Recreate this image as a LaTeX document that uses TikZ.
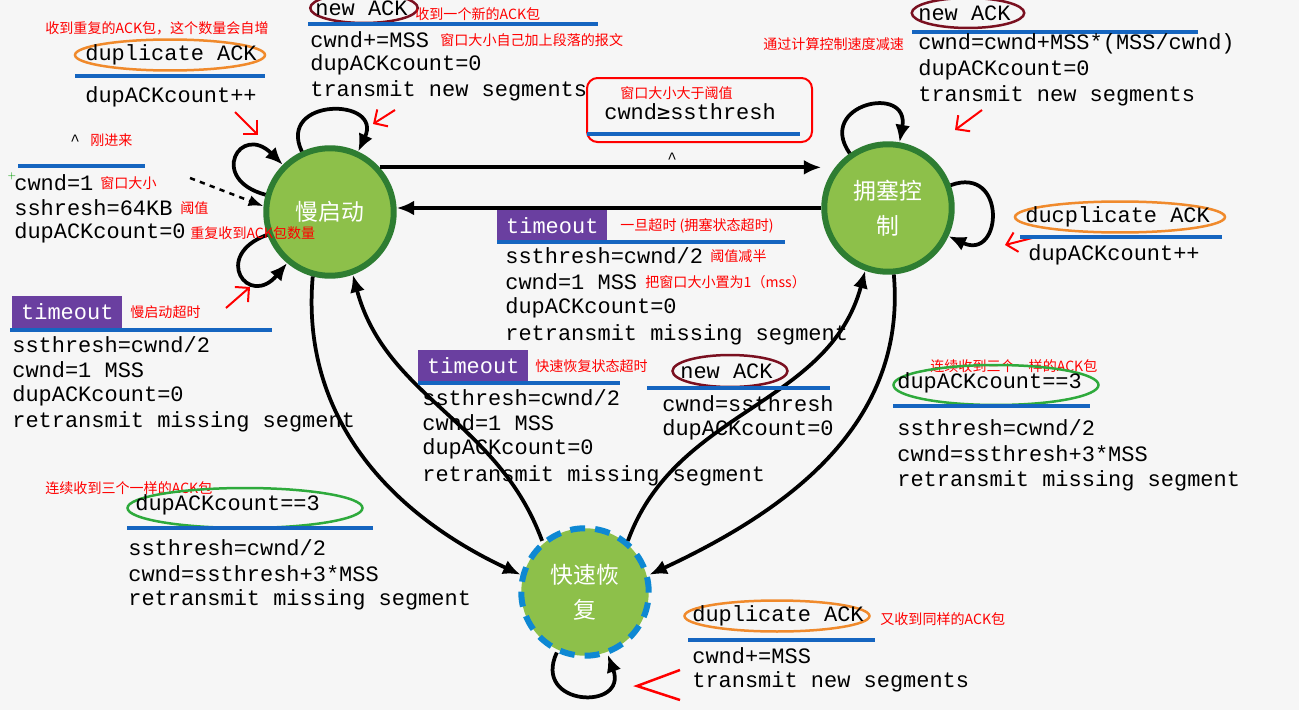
\documentclass[tikz,border=0pt]{standalone}
\usepackage{fontspec}
\setmonofont{Liberation Mono}
\newfontfamily\cjk{Noto Sans CJK SC}
\usetikzlibrary{arrows.meta,shapes.geometric}
\definecolor{stategreen}{HTML}{8DC04A}
\definecolor{stateedge}{HTML}{2E7D32}
\definecolor{lineblue}{HTML}{1565C0}
\definecolor{boxpurple}{HTML}{6A3FA0}
\definecolor{ackorange}{HTML}{F08A2C}
\definecolor{ackred}{HTML}{7A1020}
\definecolor{ackgreen}{HTML}{2EAA3C}
\tikzset{
  state/.style={circle,fill=stategreen,draw=stateedge,line width=1.2mm,minimum size=2.55cm,
    text=white,align=center,font=\cjk\fontsize{13}{20}\selectfont},
  trans/.style={line width=0.75mm,-{Latex[length=3.5mm,width=3mm]}},
  code/.style={anchor=west,inner sep=0pt,font=\ttfamily\fontsize{12.5}{14}\selectfont},
  note/.style={anchor=west,inner sep=0pt,text=red,font=\cjk\fontsize{8}{10}\selectfont},
  tbox/.style={anchor=west,fill=boxpurple,text=white,minimum height=0.64cm,minimum width=2.2cm,
    inner sep=2pt,font=\ttfamily\fontsize{12.5}{14}\selectfont},
  ell/.style={ellipse,draw=#1,line width=0.5mm,inner sep=1pt},
  uline/.style={lineblue,line width=0.7mm},
  pointer/.style={red,line width=0.4mm,-{Straight Barb[length=2mm]}}
}
\begin{document}
\begin{tikzpicture}[x=0.02cm,y=-0.02cm]
\fill[gray!7] (0,0) rectangle (1299,710);
\useasboundingbox (0,0) rectangle (1299,710);
% states
\node[state] (slow) at (330,212) {慢启动};
\node[state] (cong) at (888,208) {拥塞控\\制};
\node[state,draw=cyan!70!blue,dash pattern=on 3mm off 2mm] (fast) at (585,592) {快速恢\\复};
% transitions
\draw[trans] (slow.42) -- (slow.42 -| cong.west);
\draw[trans] (cong.west) -- (cong.west -| slow.east);
\draw[trans] (slow.255) to[out=265,in=155] (fast.165);
\draw[trans] (fast.130) to[out=110,in=285] (slow.290);
\draw[trans] (cong.275) to[out=275,in=25] (fast.15);
\draw[trans] (fast.50) to[out=70,in=255] (cong.250);
\path (slow) edge[trans,out=115,in=65,min distance=12mm] (slow);
\path (slow) edge[trans,out=165,in=135,min distance=12mm] (slow);
\path (slow) edge[trans,out=200,in=230,min distance=12mm] (slow);
\path (cong) edge[trans,out=125,in=80,min distance=12mm] (cong);
\path (cong) edge[trans,out=20,in=-25,min distance=12mm] (cong);
\path (fast) edge[trans,out=-115,in=-70,min distance=12mm] (fast);
\coordinate (enter) at (190,178);
\draw[line width=0.5mm,dashed,-{Latex[length=3mm]}] (enter) -- (slow.175);
% red pointers
\draw[pointer] (235,112) -- (258,135);
\draw[pointer] (395,110) -- (373,124);
\draw[pointer] (226,308) -- (250,287);
\draw[pointer] (982,110) -- (955,130);
\draw[pointer] (1040,236) -- (1005,245);
\draw[red,line width=0.5mm] (680,670) -- (637,686) -- (680,700);
% top left
\node[note] (n1) at (45,28) {收到重复的ACK包，这个数量会自增};
\node[ell=ackorange,minimum width=3.8cm,minimum height=0.62cm] (e1) at (170,55) {};
\node[code] (c1) at (85,55) {duplicate ACK};
\draw[uline] (75,76) -- (265,76);
\node[code] (c2) at (85,97) {dupACKcount++};
\node[code,anchor=west] (c3) at (70,140) {\fontsize{9}{10}\selectfont\^{}};
\node[note] (n2) at (90,140) {刚进来};
\draw[uline] (18,166) -- (145,166);
\node[text=green!60!black,inner sep=0pt] (plus) at (12,176) {\tiny+};
\node[code] (c4) at (14,183) {cwnd=1};
\node[note] (n3) at (100,183) {窗口大小};
\node[code] (c5) at (14,208) {sshresh=64KB};
\node[note] (n4) at (180,208) {阈值};
\node[code] (c6) at (14,233) {dupACKcount=0};
\node[note] (n5) at (190,233) {重复收到ACK包数量};
\node[tbox] (t1) at (12,312) {timeout};
\node[note] (n6) at (130,312) {慢启动超时};
\draw[uline] (10,330) -- (272,330);
\node[code] (c7) at (12,345) {ssthresh=cwnd/2};
\node[code] (c8) at (12,370) {cwnd=1 MSS};
\node[code] (c9) at (12,396) {dupACKcount=0};
\node[code] (c10) at (12,422) {retransmit missing segment};
\node[note] (n7) at (45,488) {连续收到三个一样的ACK包};
\node[ell=ackgreen,minimum width=4.7cm,minimum height=0.8cm] (e2) at (245,508) {};
\node[code] (c11) at (135,505) {dupACKcount==3};
\draw[uline] (127,528) -- (373,528);
\node[code] (c12) at (128,548) {ssthresh=cwnd/2};
\node[code] (c13) at (128,574) {cwnd=ssthresh+3*MSS};
\node[code] (c14) at (128,600) {retransmit missing segment};
% top middle
\node[ell=ackred,minimum width=2.15cm,minimum height=0.6cm] (e3) at (364,8) {};
\node[code] (c15) at (315,8) {new ACK};
\node[note] (n8) at (415,14) {收到一个新的ACK包};
\draw[uline] (308,24) -- (598,24);
\node[code] (c16) at (310,40) {cwnd+=MSS};
\node[note] (n9) at (440,40) {窗口大小自己加上段落的报文};
\node[code] (c17) at (310,65) {dupACKcount=0};
\node[code] (c18) at (310,91) {transmit new segments};
\draw[red,line width=0.4mm,rounded corners=6pt] (587,78) rectangle (812,142);
\node[note] (n10) at (620,93) {窗口大小大于阈值};
\node[code] (c19) at (604,112) {cwnd{\fontspec{DejaVu Sans Mono}≥}ssthresh};
\draw[uline] (587,134) -- (800,134);
\node[code] (c20) at (667,158) {\fontsize{9}{10}\selectfont\^{}};
% top right
\node[ell=ackred,minimum width=2.25cm,minimum height=0.6cm] (e4) at (968,13) {};
\node[code] (c21) at (918,13) {new ACK};
\draw[uline] (912,32) -- (1198,32);
\node[note] (n11) at (763,44) {通过计算控制速度减速};
\node[code] (c22) at (918,44) {cwnd=cwnd+MSS*(MSS/cwnd)};
\node[code] (c23) at (918,70) {dupACKcount=0};
\node[code] (c24) at (918,96) {transmit new segments};
\node[ell=ackorange,minimum width=4.2cm,minimum height=0.62cm] (e5) at (1120,217) {};
\node[code] (c25) at (1025,217) {ducplicate ACK};
\draw[uline] (1020,237) -- (1222,237);
\node[code] (c26) at (1028,255) {dupACKcount++};
% middle
\node[tbox] (t2) at (497,226) {timeout};
\node[note] (n12) at (620,226) {一旦超时 (拥塞状态超时)};
\draw[uline] (497,242) -- (785,242);
\node[code] (c27) at (505,256) {ssthresh=cwnd/2};
\node[note] (n13) at (710,256) {阈值减半};
\node[code] (c28) at (505,282) {cwnd=1 MSS};
\node[note] (n14) at (645,282) {把窗口大小置为1（mss）};
\node[code] (c29) at (505,308) {dupACKcount=0};
\node[code] (c30) at (505,335) {retransmit missing segment};
\node[tbox] (t3) at (418,366) {timeout};
\node[note] (n15) at (535,366) {快速恢复状态超时};
\draw[uline] (418,383) -- (620,383);
\node[code] (c31) at (422,398) {ssthresh=cwnd/2};
\node[code] (c32) at (422,423) {cwnd=1 MSS};
\node[code] (c33) at (422,449) {dupACKcount=0};
\node[code] (c34) at (422,476) {retransmit missing segment};
\node[ell=ackred,minimum width=2.3cm,minimum height=0.64cm] (e6) at (730,371) {};
\node[code] (c35) at (680,371) {new ACK};
\draw[uline] (647,388) -- (830,388);
\node[code] (c36) at (662,404) {cwnd=ssthresh};
\node[code] (c37) at (662,430) {dupACKcount=0};
\node[note] (n16) at (930,366) {连续收到三个一样的ACK包};
\node[ell=ackgreen,minimum width=4.1cm,minimum height=0.8cm] (e7) at (996,385) {};
\node[code] (c38) at (897,383) {dupACKcount==3};
\draw[uline] (893,406) -- (1090,406);
\node[code] (c39) at (897,428) {ssthresh=cwnd/2};
\node[code] (c40) at (897,454) {cwnd=ssthresh+3*MSS};
\node[code] (c41) at (897,481) {retransmit missing segment};
% bottom
\node[ell=ackorange,minimum width=3.7cm,minimum height=0.62cm] (e8) at (777,616) {};
\node[code] (c42) at (692,616) {duplicate ACK};
\node[note] (n17) at (880,619) {又收到同样的ACK包};
\draw[uline] (688,640) -- (875,640);
\node[code] (c43) at (692,656) {cwnd+=MSS};
\node[code] (c44) at (692,682) {transmit new segments};
\end{tikzpicture}
\end{document}
